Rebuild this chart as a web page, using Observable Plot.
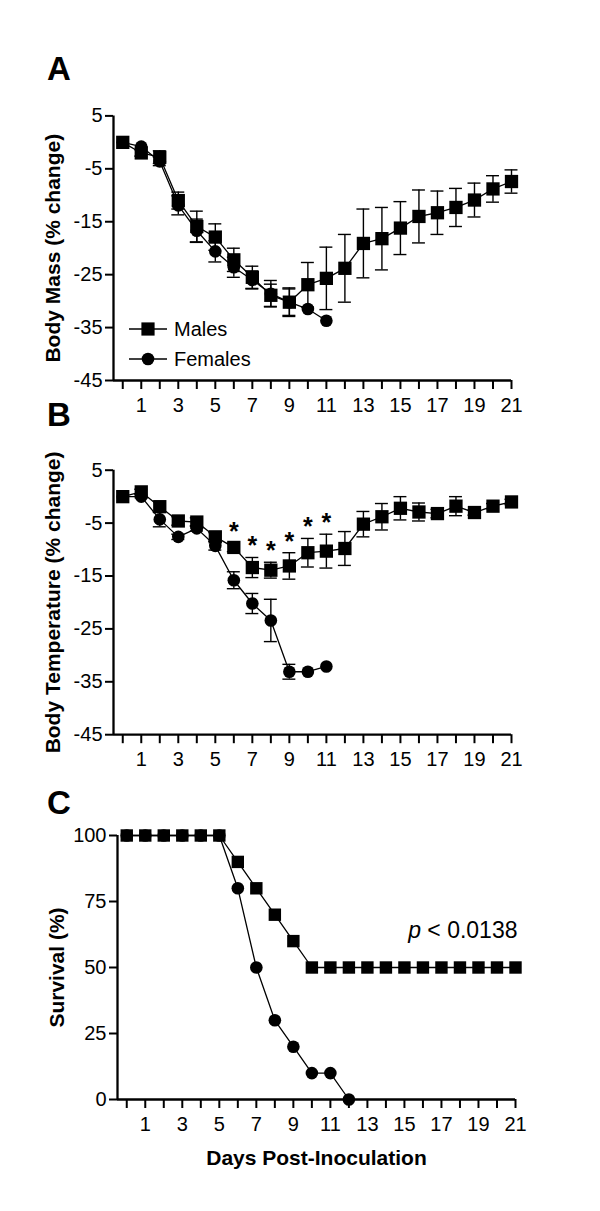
<!DOCTYPE html>
<html><head><meta charset="utf-8">
<script src="https://cdn.jsdelivr.net/npm/d3@7"></script>
<script src="https://cdn.jsdelivr.net/npm/@observablehq/plot@0.6"></script>
<style>
html,body{margin:0;padding:0;background:#fff;}
#fig{position:relative;width:600px;height:1211px;overflow:hidden;background:#fff;font-family:"Liberation Sans",Arial,sans-serif;}
#fig .panel{position:absolute;left:0;}
#overlay{position:absolute;left:0;top:0;pointer-events:none;}
</style></head>
<body><div id="fig"></div>
<script>
// ---------- data ----------
const days = [0,1,2,3,4,5,6,7,8,9,10,11,12,13,14,15,16,17,18,19,20,21];
const seriesNames = ["Males", "Females"];
const panelLetters = ["A", "B", "C"];
const massTicks = [5, -5, -15, -25, -35, -45];
const tempTicks = [5, -5, -15, -25, -35, -45];
const survTicks = [0, 25, 50, 75, 100];

const massMales    = [0, -2.0, -2.8, -11.0, -15.9, -17.9, -22.2, -25.5, -28.9, -30.2, -26.9, -25.7, -23.8, -19.1, -18.2, -16.2, -14.0, -13.3, -12.3, -10.9, -8.8, -7.4];
const massMalesErr = [0, 0.6, 1.2, 1.6, 2.9, 2.5, 2.2, 2.1, 2.1, 2.5, 4.2, 5.9, 6.4, 6.5, 5.9, 5.0, 5.0, 4.1, 3.6, 3.2, 2.5, 2.2];
const massFemales    = [0, -0.8, -3.6, -11.9, -16.7, -20.6, -23.6, -26.0, -28.6, -30.2, -31.5, -33.7];
const massFemalesErr = [0, 0, 0.8, 1.8, 2.2, 2.0, 1.9, 1.7, 2.5, 2.7, 0, 0];

const tempMales    = [0, 0.9, -1.9, -4.6, -4.8, -7.6, -9.6, -13.4, -13.9, -13.1, -10.6, -10.3, -9.8, -5.2, -3.8, -2.2, -2.9, -3.2, -1.8, -3.0, -1.8, -1.0];
const tempMalesErr = [0, 0.5, 1.0, 0.8, 0.8, 0.8, 0.8, 1.9, 1.5, 2.5, 2.7, 3.2, 3.2, 2.4, 2.5, 2.2, 1.7, 0.8, 1.8, 0.5, 0.5, 0.5];
const tempFemales    = [0, 0, -4.3, -7.6, -6.0, -9.3, -15.8, -20.2, -23.4, -33.1, -33.1, -32.1];
const tempFemalesErr = [0, 0, 1.4, 0.5, 0.5, 0.8, 1.6, 1.9, 4.0, 1.4, 0, 0];
const starDays = [6, 7, 8, 9, 10, 11];

const survMales   = [100,100,100,100,100,100,90,80,70,60,50,50,50,50,50,50,50,50,50,50,50,50];
const survFemales = [100,100,100,100,100,100,80,50,30,20,10,10,0];
const pValue = {day: 21, survival: 61, text: "p < 0.0138"};

const axisTitles = {mass: "Body Mass (% change)", temp: "Body Temperature (% change)", surv: "Survival (%)", x: "Days Post-Inoculation"};

// ---------- helpers ----------
const FONT = "'Liberation Sans', Arial, Helvetica, sans-serif";
const rows = (vals, errs) => vals.map((v, i) => ({day: days[i], v, e: errs ? errs[i] : 0}));

function panel(cfg) {
  const marks = [];
  // axis lines
  marks.push(Plot.ruleX([-0.5], {strokeWidth: 2.3}));
  marks.push(Plot.ruleY([cfg.yDomain[0]], {strokeWidth: 2.3}));
  // error bars
  for (const s of cfg.series) {
    const eb = s.rows.filter(d => d.e > 0);
    marks.push(Plot.ruleX(eb, {x: "day", y1: d => d.v - d.e, y2: d => d.v + d.e, strokeWidth: 1.4}));
    marks.push(Plot.ruleY(eb, {y: d => d.v + d.e, x1: d => d.day - 0.35, x2: d => d.day + 0.35, strokeWidth: 1.4}));
    marks.push(Plot.ruleY(eb, {y: d => d.v - d.e, x1: d => d.day - 0.35, x2: d => d.day + 0.35, strokeWidth: 1.4}));
  }
  for (const s of cfg.series) marks.push(Plot.line(s.rows, {x: "day", y: "v", strokeWidth: 1.3}));
  for (const s of cfg.series) marks.push(Plot.dot(s.rows, {x: "day", y: "v", symbol: s.symbol, r: s.r, fill: "black"}));
  // axes
  marks.push(Plot.axisX({ticks: days, tickFormat: d => d % 2 === 1 ? String(d) : "", tickSize: 9, tickPadding: 8, strokeWidth: 2, fontSize: 20, label: null}));
  marks.push(Plot.axisY({ticks: cfg.yTicks, tickFormat: d => String(d), tickSize: 8, tickPadding: 3, strokeWidth: 2, fontSize: 20, label: null}));
  // axis titles
  marks.push(Plot.text([cfg.yLabel], {frameAnchor: "left", rotate: -90, dx: -68, textAnchor: "middle", lineAnchor: "top", fontWeight: "bold", fontSize: 21}));
  if (cfg.xLabel) marks.push(Plot.text([cfg.xLabel], {frameAnchor: "bottom", dy: 51, textAnchor: "middle", lineAnchor: "top", fontWeight: "bold", fontSize: 21}));
  if (cfg.extra) marks.push(...cfg.extra);
  const svg = Plot.plot({
    width: 600, height: cfg.height,
    marginLeft: cfg.marginLeft, marginRight: cfg.marginRight,
    marginTop: cfg.marginTop, marginBottom: cfg.marginBottom,
    style: {fontFamily: FONT, fontSize: "20px", color: "black", background: "white", overflow: "visible"},
    x: {domain: [-0.5, 21]},
    y: {domain: cfg.yDomain},
    marks
  });
  svg.classList.add("panel");
  svg.style.top = cfg.top + "px";
  return svg;
}

const fig = document.getElementById("fig");

// Panel A
const massM = rows(massMales, massMalesErr), massF = rows(massFemales, massFemalesErr);
fig.appendChild(panel({
  top: 0, height: 420, marginTop: 115.4, marginBottom: 40, marginLeft: 113, marginRight: 89,
  yDomain: [-45, 5], yTicks: massTicks, yLabel: axisTitles.mass,
  series: [
    {rows: massF, symbol: "circle", r: 6.3},
    {rows: massM, symbol: "square", r: 7.5}
  ]
}));

// Panel B
const tempM = rows(tempMales, tempMalesErr), tempF = rows(tempFemales, tempFemalesErr);
const stars = tempM.filter(d => starDays.includes(d.day));
fig.appendChild(panel({
  top: 420, height: 360, marginTop: 49.7, marginBottom: 45.8, marginLeft: 113, marginRight: 89,
  yDomain: [-45, 5], yTicks: tempTicks, yLabel: axisTitles.temp,
  series: [
    {rows: tempF, symbol: "circle", r: 6.3},
    {rows: tempM, symbol: "square", r: 7.5}
  ],
  extra: [Plot.text(stars, {x: "day", y: d => d.v + d.e, text: () => "*", lineAnchor: "bottom", dy: -3, fontSize: 25, fontWeight: "bold"})]
}));

// Panel C
const survM = rows(survMales), survF = rows(survFemales);
const svgC = panel({
  top: 780, height: 431, marginTop: 55, marginBottom: 112, marginLeft: 117, marginRight: 85,
  yDomain: [0, 100], yTicks: survTicks, yLabel: axisTitles.surv, xLabel: axisTitles.x,
  series: [
    {rows: survF, symbol: "circle", r: 6.3},
    {rows: survM, symbol: "square", r: 7}
  ],
  extra: [Plot.text([pValue], {x: "day", y: "survival", text: "text", textAnchor: "end", lineAnchor: "bottom", dx: 2, fontSize: 23})]
});
fig.appendChild(svgC);
svgC.querySelectorAll("text").forEach(t => {
  if (t.textContent === pValue.text) {
    t.textContent = "";
    const ns = "http://www.w3.org/2000/svg";
    const a = document.createElementNS(ns, "tspan"); a.setAttribute("font-style", "italic"); a.textContent = "p";
    const b = document.createElementNS(ns, "tspan"); b.textContent = "\u00a0< 0.0138";
    t.appendChild(a); t.appendChild(b);
  }
});

// Overlay: panel letters + legend
const ns = "http://www.w3.org/2000/svg";
const ov = document.createElementNS(ns, "svg");
ov.setAttribute("id", "overlay"); ov.setAttribute("width", 600); ov.setAttribute("height", 1211);
const letterBase = [80, 426, 814];
panelLetters.forEach((L, i) => {
  const t = document.createElementNS(ns, "text");
  t.setAttribute("x", 47); t.setAttribute("y", letterBase[i]);
  t.setAttribute("font-family", FONT); t.setAttribute("font-weight", "bold"); t.setAttribute("font-size", 33);
  t.textContent = L; ov.appendChild(t);
});
const legY = [329, 359];
seriesNames.forEach((name, i) => {
  const y = legY[i];
  const ln = document.createElementNS(ns, "line");
  ln.setAttribute("x1", 129); ln.setAttribute("x2", 167); ln.setAttribute("y1", y); ln.setAttribute("y2", y);
  ln.setAttribute("stroke", "black"); ln.setAttribute("stroke-width", 1.4); ov.appendChild(ln);
  let sym;
  if (i === 0) {
    sym = document.createElementNS(ns, "rect");
    sym.setAttribute("x", 148 - 6.6); sym.setAttribute("y", y - 6.6); sym.setAttribute("width", 13.2); sym.setAttribute("height", 13.2);
  } else {
    sym = document.createElementNS(ns, "circle");
    sym.setAttribute("cx", 148); sym.setAttribute("cy", y); sym.setAttribute("r", 6.3);
  }
  sym.setAttribute("fill", "black"); ov.appendChild(sym);
  const t = document.createElementNS(ns, "text");
  t.setAttribute("x", 174); t.setAttribute("y", y + 7);
  t.setAttribute("font-family", FONT); t.setAttribute("font-size", 20);
  t.textContent = name; ov.appendChild(t);
});
fig.appendChild(ov);
</script>
</body></html>
